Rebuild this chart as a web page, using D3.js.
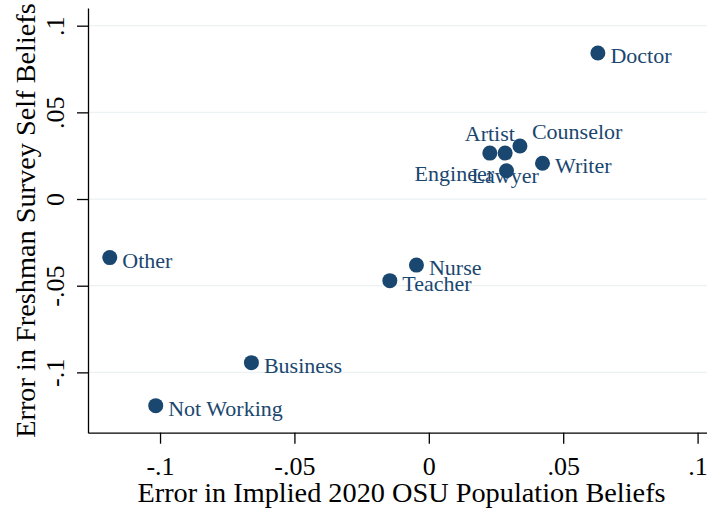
<!DOCTYPE html>
<html>
<head>
<meta charset="utf-8">
<script src="https://cdn.jsdelivr.net/npm/d3@7"></script>
<style>
  html, body { margin: 0; padding: 0; background: #fff; }
  svg { display: block; font-family: "Liberation Serif", "Times New Roman", serif; }
</style>
</head>
<body>
<svg id="chart" width="707" height="513"></svg>
<script>
// ---- data ----
const occupations = ["Doctor", "Artist", "Lawyer", "Counselor", "Engineer", "Writer",
                     "Other", "Nurse", "Teacher", "Business", "Not Working"];
const populationError = [0.0629, 0.0227, 0.0284, 0.0339, 0.0289, 0.0423,
                         -0.1187, -0.0046, -0.0145, -0.0660, -0.1016];
const selfError = [0.0842, 0.0265, 0.0265, 0.0306, 0.0163, 0.0206,
                   -0.0338, -0.0381, -0.0471, -0.0944, -0.1192];
// marker-label clock positions (as in a Stata mlabvposition variable)
const labelClock = [3, 12, 6, 2, 9, 3, 3, 3, 3, 3, 3];
const xTicks = [-0.1, -0.05, 0, 0.05, 0.1];
const yTicks = [-0.1, -0.05, 0, 0.05, 0.1];
const xTitle = "Error in Implied 2020 OSU Population Beliefs";
const yTitle = "Error in Freshman Survey Self Beliefs";

(function () {
// ---- layout ----
const svg = d3.select("#chart");
const pLeft = 88, pRight = 707, pTop = 8, pBottom = 432.7;
const navy = "#1a476f";

const x = d3.scaleLinear().domain([-0.1268, 0.1035]).range([pLeft, pRight]);
const y = d3.scaleLinear().domain([-0.1348, 0.1102]).range([pBottom, pTop]);

const fmt = v => {
  if (Math.abs(v) < 1e-12) return "0";
  let s = String(+v.toFixed(4));
  return s.replace(/^(-?)0\./, "$1.");
};

// gridlines
svg.append("g").selectAll("line").data(yTicks).join("line")
  .attr("x1", pLeft).attr("x2", pRight)
  .attr("y1", d => y(d)).attr("y2", d => y(d))
  .attr("stroke", "#eaf2f3").attr("stroke-width", 1.3);

// x axis
const gx = svg.append("g").attr("transform", `translate(0,${pBottom})`)
  .call(d3.axisBottom(x).tickValues(xTicks).tickFormat(fmt).tickSize(11).tickSizeOuter(0));
gx.select(".domain").attr("stroke", "#000").attr("stroke-width", 1.3);
gx.selectAll(".tick line").attr("stroke", "#000").attr("stroke-width", 1.3);
gx.selectAll(".tick text")
  .attr("y", 42).attr("dy", null)
  .attr("fill", "#000").attr("font-size", 26)
  .attr("font-family", "Liberation Serif, Times New Roman, serif");

// y axis
const gy = svg.append("g").attr("transform", `translate(${pLeft},0)`)
  .call(d3.axisLeft(y).tickValues(yTicks).tickFormat(fmt).tickSize(11).tickSizeOuter(0));
gy.select(".domain").attr("stroke", "#000").attr("stroke-width", 1.3);
gy.selectAll(".tick line").attr("stroke", "#000").attr("stroke-width", 1.3);
gy.selectAll(".tick text")
  .attr("x", null).attr("dy", null)
  .attr("text-anchor", "middle")
  .attr("transform", "translate(-24,0) rotate(-90)")
  .attr("fill", "#000").attr("font-size", 26)
  .attr("font-family", "Liberation Serif, Times New Roman, serif");

// axis titles
svg.append("text")
  .attr("x", (138 + 665) / 2).attr("y", 502)
  .attr("text-anchor", "middle").attr("font-size", 28.3).attr("fill", "#000")
  .text(xTitle);
svg.append("text")
  .attr("transform", `translate(35,${(3 + 438) / 2}) rotate(-90)`)
  .attr("text-anchor", "middle").attr("font-size", 28.3).attr("fill", "#000")
  .text(yTitle);

// points
const pts = occupations.map((name, i) => ({
  name, px: populationError[i], py: selfError[i], clock: labelClock[i]
}));

svg.append("g").selectAll("circle").data(pts).join("circle")
  .attr("cx", d => x(d.px)).attr("cy", d => y(d.py))
  .attr("r", 7.5).attr("fill", navy);

const labelOffset = {
  3:  {dx: 12.5,  dy: 10,  anchor: "start"},
  9:  {dx: -12.5, dy: 10,  anchor: "end"},
  12: {dx: 0,     dy: -12, anchor: "middle"},
  6:  {dx: 0,     dy: 30,  anchor: "middle"},
  2:  {dx: 12,    dy: -7,  anchor: "start"}
};

svg.append("g").selectAll("text").data(pts).join("text")
  .attr("x", d => x(d.px) + labelOffset[d.clock].dx)
  .attr("y", d => y(d.py) + labelOffset[d.clock].dy)
  .attr("text-anchor", d => labelOffset[d.clock].anchor)
  .attr("font-size", 22).attr("fill", navy)
  .text(d => d.name);
})();
</script>
</body>
</html>
